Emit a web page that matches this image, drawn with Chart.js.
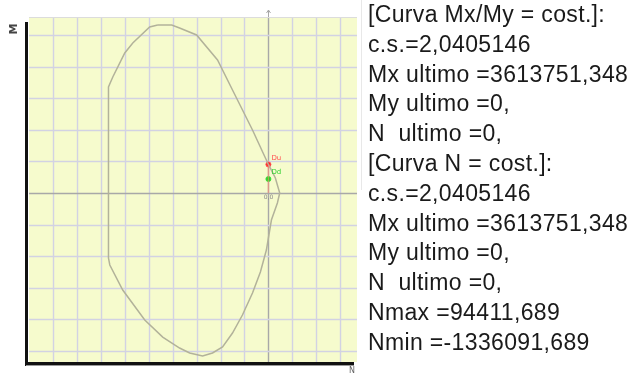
<!DOCTYPE html>
<html lang="it">
<head>
  <meta charset="UTF-8">
  <title>Dominio di interazione</title>
  <script src="https://cdn.jsdelivr.net/npm/chart.js"></script>
  <style>
    html, body { margin: 0; padding: 0; background: #ffffff; }
    body { width: 630px; height: 376px; position: relative; overflow: hidden; }
    #wrap { position: absolute; left: 0; top: 0; width: 362px; height: 376px; }
    #info {
      position: absolute; left: 368px; top: 0;
      font-family: "Liberation Sans", Arial, sans-serif;
      font-size: 23px; line-height: 29.8px; color: #1a1a1a;
      white-space: pre; letter-spacing: 0.35px;
    }
    #sep { position: absolute; left: 361px; top: 0; width: 1px; height: 190px; background: #e8e8e8; }
  </style>
</head>
<body>
  <div id="wrap"><canvas id="domain" width="362" height="376"></canvas></div>
  <div id="sep"></div>
  <div id="info"></div>

  <script>
    // dominio M-N (N in ascissa, M in ordinata)
    const curveN = [-925000, -808000, -742000, -600000, -425000, -300000, -133000, 0, 58000, 94411, 75000, 25000,
      -17000, -67000, -133000, -217000, -300000, -383000, -467000, -550000, -658000, -742000, -883000,
      -1033000, -1217000, -1325000, -1336091, -1336091, -1300000, -1200000, -1133000, -992000, -925000];
    const curveM = [21270000, 21270000, 20890000, 20000000, 16840000, 13040000, 7970000, 3613751, 1900000, 0, -1270000, -3420000,
      -7220000, -10000000, -12660000, -15440000, -17720000, -19490000, -20250000, -20630000, -20250000, -19620000, -18230000,
      -16080000, -12280000, -9110000, -8230000, 13420000, 14680000, 17720000, 18990000, 21010000, 21270000];

    // punto ultimo (rosso) e punto di progetto (verde)
    const ultimatePoint = [0, 3613751];
    const designPoint = [0, 1771000];

    // linee di griglia
    const xGrid = [-1800000, -1600000, -1400000, -1200000, -1000000, -800000, -600000, -400000, -200000, 0, 200000, 400000, 600000];
    const yGrid = [-20000000, -16000000, -12000000, -8000000, -4000000, 0, 4000000, 8000000, 12000000, 16000000, 20000000];

    const infoLines = [
      '[Curva Mx/My = cost.]:',
      'c.s.=2,0405146',
      'Mx ultimo =3613751,348',
      'My ultimo =0,',
      'N  ultimo =0,',
      '[Curva N = cost.]:',
      'c.s.=2,0405146',
      'Mx ultimo =3613751,348',
      'My ultimo =0,',
      'N  ultimo =0,',
      'Nmax =94411,689',
      'Nmin =-1336091,689'
    ];

    const xMin = -2000000, xMax = 740000;
    const yMin = -21390000, yMax = 22150000;

    document.getElementById('info').textContent = infoLines.join('\n');

    // sfondo giallo, griglia, bordi neri, etichette assi
    const framePlugin = {
      id: 'frame',
      beforeDatasetsDraw(chart) {
        const { ctx, chartArea: a, scales } = chart;
        ctx.save();
        ctx.fillStyle = '#f6fbcd';
        ctx.fillRect(a.left, a.top, a.right - a.left, a.bottom - a.top);
        ctx.lineWidth = 1.4;
        xGrid.forEach(v => {
          const p = Math.round(scales.x.getPixelForValue(v)) + 0.5;
          ctx.strokeStyle = v === 0 ? '#a8a8a8' : '#d2d2e3';
          ctx.beginPath();
          ctx.moveTo(p, a.top);
          ctx.lineTo(p, a.bottom);
          ctx.stroke();
        });
        yGrid.forEach(v => {
          const p = Math.round(scales.y.getPixelForValue(v)) + 0.5;
          ctx.strokeStyle = v === 0 ? '#a8a8a8' : '#d2d2e3';
          ctx.beginPath();
          ctx.moveTo(a.left, p);
          ctx.lineTo(a.right, p);
          ctx.stroke();
        });
        ctx.restore();
      },
      afterDraw(chart) {
        const { ctx, chartArea: a, scales } = chart;
        const x0 = Math.round(scales.x.getPixelForValue(0)) + 0.5;
        const y0 = Math.round(scales.y.getPixelForValue(0)) + 0.5;
        ctx.save();
        // asse verticale oltre il bordo superiore
        ctx.strokeStyle = '#a8a8a8';
        ctx.lineWidth = 1;
        ctx.beginPath();
        ctx.moveTo(x0, a.top);
        ctx.lineTo(x0, a.top - 8);
        ctx.moveTo(x0 - 2, a.top - 5);
        ctx.lineTo(x0, a.top - 8);
        ctx.lineTo(x0 + 2, a.top - 5);
        ctx.stroke();
        // bordo superiore
        ctx.strokeStyle = '#dcdcdc';
        ctx.beginPath();
        ctx.moveTo(a.left, a.top - 0.5);
        ctx.lineTo(a.right, a.top - 0.5);
        ctx.stroke();
        // bordi neri
        ctx.fillStyle = '#111';
        ctx.fillRect(a.left - 4, a.top + 4, 3, a.bottom - a.top);
        ctx.fillRect(a.left - 4, a.bottom, a.right - a.left + 1, 3);
        ctx.fillStyle = '#9a9a9a';
        ctx.fillRect(a.left - 3, a.bottom + 3, a.right - a.left, 1);
        // etichette
        ctx.fillStyle = '#444';
        ctx.font = 'bold 11px "DejaVu Sans"';
        ctx.textAlign = 'center';
        ctx.textBaseline = 'middle';
        ctx.save();
        ctx.translate(14, 29);
        ctx.rotate(-Math.PI / 2);
        ctx.fillText('M', 0, 0);
        ctx.restore();
        ctx.font = '8px "DejaVu Sans"';
        ctx.fillStyle = '#666';
        ctx.fillText('N', a.right - 5, a.bottom + 9);
        ctx.font = '6px "DejaVu Sans"';
        ctx.fillStyle = '#888';
        ctx.fillText('0,0', x0, y0 + 4);
        const pu = chart.getDatasetMeta(2).data[0];
        const pd = chart.getDatasetMeta(3).data[0];
        ctx.textAlign = 'left';
        ctx.font = '7px "DejaVu Sans"';
        ctx.fillStyle = '#ff5050';
        ctx.fillText('Du', pu.x + 3, pu.y - 6);
        ctx.fillStyle = '#30d030';
        ctx.fillText('Dd', pd.x + 3, pd.y - 7);
        ctx.restore();
      }
    };

    new Chart(document.getElementById('domain'), {
      type: 'scatter',
      data: {
        datasets: [
          {
            label: 'retta di carico',
            data: [{ x: 0, y: 0 }, { x: ultimatePoint[0], y: ultimatePoint[1] }],
            showLine: true,
            borderColor: 'rgba(255,140,120,0.6)',
            borderWidth: 1.5,
            pointRadius: 0
          },
          {
            label: 'dominio',
            data: curveN.map((n, i) => ({ x: n, y: curveM[i] })),
            showLine: true,
            borderColor: '#b2b29a',
            borderWidth: 1.5,
            pointRadius: 0,
            tension: 0
          },
          {
            label: 'ultimo',
            data: [{ x: ultimatePoint[0], y: ultimatePoint[1] }],
            pointRadius: 2.5,
            backgroundColor: '#ff2020',
            borderColor: '#ff5050'
          },
          {
            label: 'progetto',
            data: [{ x: designPoint[0], y: designPoint[1] }],
            pointRadius: 2.5,
            backgroundColor: '#20d020',
            borderColor: '#40e040'
          }
        ]
      },
      options: {
        responsive: false,
        animation: false,
        layout: { padding: { left: 29, top: 18, right: 4, bottom: 14 } },
        plugins: { legend: { display: false }, tooltip: { enabled: false } },
        scales: {
          x: {
            type: 'linear', min: xMin, max: xMax,
            ticks: { display: false },
            grid: { display: false, drawTicks: false },
            border: { display: false },
            afterFit(s) { s.height = 0; }
          },
          y: {
            type: 'linear', min: yMin, max: yMax,
            ticks: { display: false },
            grid: { display: false, drawTicks: false },
            border: { display: false },
            afterFit(s) { s.width = 0; }
          }
        }
      },
      plugins: [framePlugin]
    });
  </script>
</body>
</html>
